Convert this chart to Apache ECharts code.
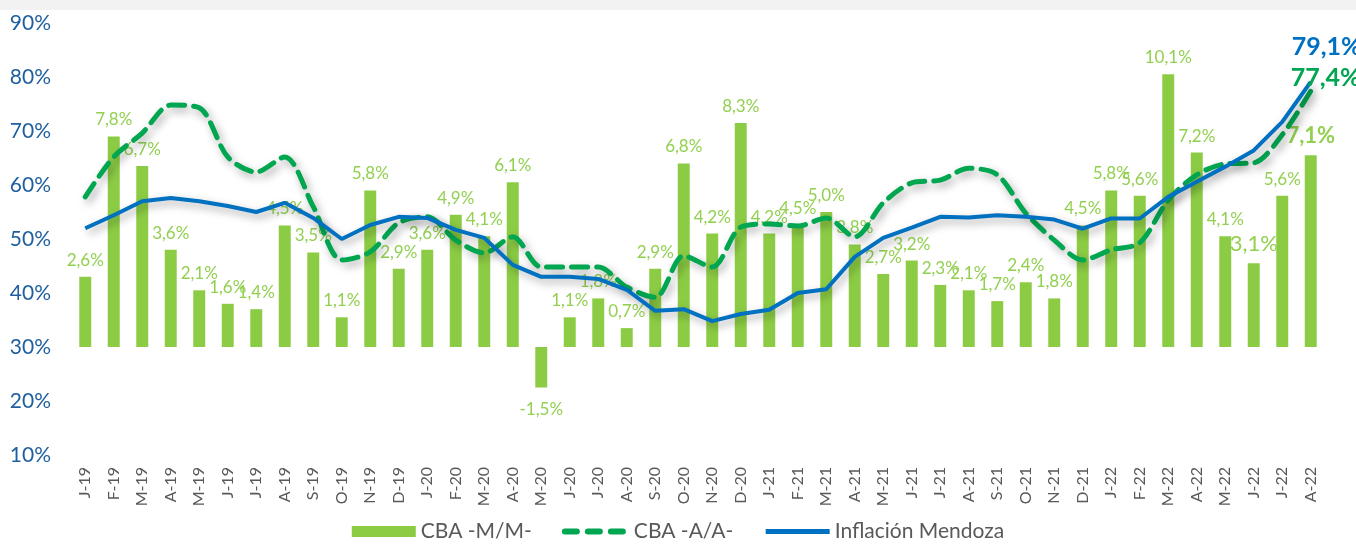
<!DOCTYPE html>
<html>
<head>
<meta charset="utf-8">
<script src="https://cdn.jsdelivr.net/npm/echarts@6/dist/echarts.min.js"></script>
<style>
	html, body { margin: 0; padding: 0; background: #fff; }
	#topband { height: 10px; background: #f2f2f2; }
	#chart { width: 1356px; height: 544px; position: absolute; left: 0; top: 0; }
</style>
</head>
<body>
<div id="topband"></div>
<div id="chart"></div>
<script>
/*
 * Datos: CBA mensual, interanual e inflación Mendoza
 */
var meses = ['J-19','F-19','M-19','A-19','M-19','J-19','J-19','A-19','S-19','O-19','N-19','D-19',
	'J-20','F-20','M-20','A-20','M-20','J-20','J-20','A-20','S-20','O-20','N-20','D-20',
	'J-21','F-21','M-21','A-21','M-21','J-21','J-21','A-21','S-21','O-21','N-21','D-21',
	'J-22','F-22','M-22','A-22','M-22','J-22','J-22','A-22'];

// CBA -M/M- (eje secundario)
var cbaMensual = [2.6, 7.8, 6.7, 3.6, 2.1, 1.6, 1.4, 4.5, 3.5, 1.1, 5.8, 2.9,
	3.6, 4.9, 4.1, 6.1, -1.5, 1.1, 1.8, 0.7, 2.9, 6.8, 4.2, 8.3,
	4.2, 4.5, 5.0, 3.8, 2.7, 3.2, 2.3, 2.1, 1.7, 2.4, 1.8, 4.5,
	5.8, 5.6, 10.1, 7.2, 4.1, 3.1, 5.6, 7.1];

// CBA -A/A-
var cbaAnual = [57.8, 65.2, 69.6, 74.8, 74.3, 65.2, 62.4, 65.2, 56.0, 46.1, 47.6, 53.0,
	54.1, 49.8, 47.4, 50.4, 44.8, 44.8, 44.8, 41.1, 39.2, 46.9, 44.8, 52.2,
	52.8, 52.4, 53.9, 50.4, 56.7, 60.4, 60.9, 63.1, 61.9, 54.8, 49.8, 46.1,
	48.0, 49.3, 57.2, 61.9, 63.9, 64.1, 69.3, 77.4];

// Inflación Mendoza
var inflacion = [52.0, 54.4, 57.0, 57.6, 57.0, 56.1, 55.0, 56.7, 53.9, 50.0, 52.6, 54.1,
	53.9, 51.7, 50.2, 45.2, 43.0, 43.0, 42.6, 40.6, 36.7, 37.0, 34.8, 36.1,
	36.9, 40.0, 40.7, 46.7, 50.2, 52.1, 54.1, 54.0, 54.4, 54.1, 53.6, 51.9,
	53.8, 53.8, 57.8, 60.6, 63.4, 66.4, 71.7, 79.1];

var ticksIzq = [10, 20, 30, 40, 50, 60, 70, 80, 90];

function coma(v) {
	return v.toFixed(1).replace('.', ',') + '%';
}

var dom = document.getElementById('chart');
var myChart = echarts.init(dom);

// barras con etiquetas especiales
var barData = [];
for (var i = 0; i < cbaMensual.length; i++) {
	var item = { value: cbaMensual[i] };
	if (cbaMensual[i] < 0) {
		item.label = { position: 'bottom', distance: 14 };
	}
	if (i == cbaMensual.length - 3) {
		item.label = { fontSize: 22 };
	}
	if (i == cbaMensual.length - 1) {
		item.label = { fontSize: 22, fontWeight: 'bold' };
	}
	barData.push(item);
}

var shadow = {
	shadowBlur: 8,
	shadowColor: 'rgba(0, 0, 0, 0.35)',
	shadowOffsetX: 3,
	shadowOffsetY: 4
};

option = {
	animation: false,
	textStyle: { fontFamily: 'Lato' },
	grid: { left: 71, right: 31, top: 23, bottom: 89 },
	legend: {
		bottom: -3,
		left: 'center',
		itemWidth: 64,
		itemHeight: 11,
		itemGap: 30,
		textStyle: { fontSize: 21, color: '#595959', fontFamily: 'Lato' },
		data: [
			{ name: 'CBA -M/M-', icon: 'rect' },
			{
				name: 'CBA -A/A-',
				itemStyle: { opacity: 0 },
				lineStyle: { width: 6, type: [12, 11], cap: 'round', shadowBlur: 0, shadowOffsetX: 0, shadowOffsetY: 0 }
			},
			{
				name: 'Inflación Mendoza',
				itemStyle: { opacity: 0 },
				lineStyle: { width: 5, shadowBlur: 0, shadowOffsetX: 0, shadowOffsetY: 0 }
			}
		]
	},
	xAxis: {
		type: 'category',
		data: meses,
		axisLine: { show: false },
		axisTick: { show: false },
		axisLabel: {
			rotate: 90,
			interval: 0,
			margin: 12,
			color: '#595959',
			fontSize: 16
		}
	},
	yAxis: [{
		type: 'value',
		min: ticksIzq[0],
		max: ticksIzq[ticksIzq.length - 1],
		interval: 10,
		splitLine: { show: false },
		axisLine: { show: false },
		axisTick: { show: false },
		axisLabel: {
			margin: 20,
			color: '#1F5F9E',
			fontSize: 21,
			formatter: '{value}%'
		}
	}, {
		type: 'value',
		min: -4,
		max: 12,
		show: false,
		splitLine: { show: false }
	}],
	series: [{
		name: 'CBA -M/M-',
		type: 'bar',
		yAxisIndex: 1,
		barWidth: '42%',
		itemStyle: { color: '#8CCC44' },
		label: {
			show: true,
			position: 'top',
			distance: 8,
			color: '#92D050',
			fontSize: 17,
			formatter: function(p) { return coma(p.value); }
		},
		data: barData
	}, {
		name: 'CBA -A/A-',
		type: 'line',
		smooth: 0.3,
		symbol: 'none',
		lineStyle: Object.assign({ color: '#00A650', width: 5, type: [16, 9], cap: 'round' }, shadow),
		itemStyle: { color: '#00A650' },
		endLabel: {
			show: true,
			offset: [-28, -13],
			color: '#00A650',
			fontSize: 25,
			fontWeight: 'bold',
			formatter: function(p) { return coma(p.value); }
		},
		data: cbaAnual
	}, {
		name: 'Inflación Mendoza',
		type: 'line',
		symbol: 'none',
		lineStyle: Object.assign({ color: '#0070C0', width: 4 }, shadow),
		itemStyle: { color: '#0070C0' },
		endLabel: {
			show: true,
			offset: [-27, -35],
			color: '#0070C0',
			fontSize: 25,
			fontWeight: 'bold',
			formatter: function(p) { return coma(p.value); }
		},
		data: inflacion
	}]
};
myChart.setOption(option);
</script>
</body>
</html>
